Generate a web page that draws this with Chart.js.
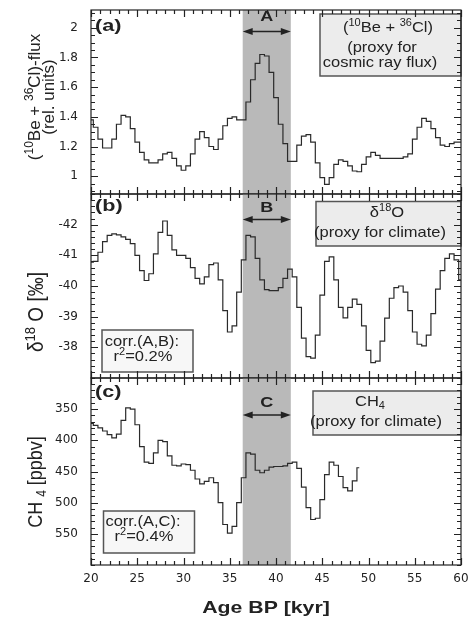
<!DOCTYPE html>
<html>
<head>
<meta charset="utf-8">
<script src="https://cdn.jsdelivr.net/npm/chart.js@4.4.0/dist/chart.umd.min.js"></script>
<style>
  html, body { margin: 0; padding: 0; background: #fff; }
  #wrap { position: relative; width: 472px; height: 624px; }
  #wrap canvas { position: absolute; left: 0; top: 0; }
</style>
</head>
<body>
<div id="wrap">
  <canvas id="chartA" width="472" height="624"></canvas>
  <canvas id="chartB" width="472" height="624"></canvas>
  <canvas id="chartC" width="472" height="624"></canvas>
</div>
<script>
// age grid (kyr BP)
const ages = [20, 20.5, 21, 21.5, 22, 22.5, 23, 23.5, 24, 24.5, 25, 25.5, 26, 26.5, 27, 27.5,
  28, 28.5, 29, 29.5, 30, 30.5, 31, 31.5, 32, 32.5, 33, 33.5, 34, 34.5, 35, 35.5,
  36, 36.5, 37, 37.5, 38, 38.5, 39, 39.5, 40, 40.5, 41, 41.5, 42, 42.5, 43, 43.5,
  44, 44.5, 45, 45.5, 46, 46.5, 47, 47.5, 48, 48.5, 49, 49.5, 50, 50.5, 51, 51.5,
  52, 52.5, 53, 53.5, 54, 54.5, 55, 55.5, 56, 56.5, 57, 57.5, 58, 58.5, 59, 59.5, 60];

// (a) 10Be + 36Cl flux, rel. units
const flux = [1.38, 1.33, 1.25, 1.19, 1.19, 1.25, 1.35, 1.41, 1.40, 1.32, 1.23, 1.16,
  1.11, 1.09, 1.09, 1.11, 1.15, 1.16, 1.12, 1.07, 1.04, 1.07, 1.15, 1.25, 1.30, 1.26,
  1.20, 1.18, 1.25, 1.34, 1.39, 1.40, 1.38, 1.38, 1.50, 1.65, 1.76, 1.82, 1.81, 1.70,
  1.53, 1.35, 1.22, 1.10, 1.10, 1.21, 1.27, 1.28, 1.23, 1.09, 0.99, 0.945, 0.99, 1.08,
  1.11, 1.10, 1.07, 1.035, 1.03, 1.08, 1.13, 1.16, 1.14, 1.12, 1.12, 1.12, 1.12, 1.12,
  1.13, 1.15, 1.25, 1.33, 1.39, 1.37, 1.32, 1.26, 1.21, 1.20, 1.22, 1.23, 1.23];

// (b) delta 18O, per mil
const d18O = [-40.78, -40.80, -41.10, -41.45, -41.65, -41.70, -41.67, -41.60, -41.52, -41.38,
  -41.00, -40.50, -40.18, -40.40, -41.05, -41.75, -42.12, -41.65, -41.18, -41.00, -41.00,
  -40.90, -40.60, -40.25, -40.07, -40.30, -40.70, -40.75, -40.20, -39.20, -38.50, -38.70,
  -39.80, -40.85, -41.65, -41.60, -40.90, -40.20, -39.88, -39.85, -39.85, -39.95, -40.25,
  -40.55, -40.30, -39.30, -38.30, -37.70, -37.65, -38.40, -39.70, -40.80, -40.95, -40.20,
  -39.30, -38.96, -39.30, -39.57, -39.40, -38.70, -37.90, -37.50, -37.55, -38.20, -38.95,
  -39.60, -39.95, -40.00, -39.80, -39.20, -38.50, -38.10, -38.05, -38.40, -39.10, -39.90,
  -40.50, -40.90, -41.05, -40.85, -40.20];

// (c) CH4, ppbv (record ends near 49 kyr)
const ch4 = [373, 376, 380, 385, 391, 396, 390, 368, 348, 350, 375, 410, 435, 437, 420, 400,
  402, 425, 440, 441, 438, 439, 448, 462, 470, 466, 460, 468, 500, 535, 549, 538, 500, 460,
  420, 422, 448, 452, 448, 443, 442, 442, 441, 437, 435, 445, 475, 508, 527, 525, 495, 455,
  435, 440, 458, 476, 481, 465, 444];

const bandKyr = [36.4, 41.6];
const xTicks = [20, 25, 30, 35, 40, 45, 50, 55, 60];
const fluxTicks = [1, 1.2, 1.4, 1.6, 1.8, 2];
const d18OTicks = [-42, -41, -40, -39, -38];
const ch4Ticks = [350, 400, 450, 500, 550];

const INK = '#222';

// text with ^{sup} and _{sub} parts, optionally rotated and stretched
function drawRich(ctx, str, x, y, size, o) {
  o = o || {};
  const fam = 'Liberation Sans, Arial, sans-serif';
  const wt = o.bold ? 'bold ' : '';
  const segs = [];
  str.replace(/\^\{([^}]*)\}|_\{([^}]*)\}|[^^_]+/g, (m, sup, sub) => {
    if (sup !== undefined) segs.push({t: sup, s: 'sup'});
    else if (sub !== undefined) segs.push({t: sub, s: 'sub'});
    else segs.push({t: m});
    return m;
  });
  const fontFor = s => wt + (s.s ? Math.round(size * 0.68) : size) + 'px ' + fam;
  let w = 0;
  segs.forEach(s => { ctx.font = fontFor(s); w += ctx.measureText(s.t).width; });
  const sx = o.sx || 1;
  ctx.save();
  ctx.translate(x, y);
  if (o.rot) { ctx.rotate(-Math.PI / 2); ctx.scale(1, sx); } else { ctx.scale(sx, 1); }
  ctx.fillStyle = INK;
  ctx.textAlign = 'left';
  ctx.textBaseline = 'middle';
  let cx = o.align === 'left' ? 0 : -w / 2;
  segs.forEach(s => {
    ctx.font = fontFor(s);
    const dy = s.s === 'sup' ? -size * 0.3 : s.s === 'sub' ? size * 0.28 : 0;
    ctx.fillText(s.t, cx, dy);
    cx += ctx.measureText(s.t).width;
  });
  ctx.restore();
}

function drawBox(ctx, b) {
  ctx.save();
  ctx.fillStyle = b.fill;
  ctx.fillRect(b.x, b.y, b.w, b.h);
  ctx.strokeStyle = '#555';
  ctx.lineWidth = 1.5;
  ctx.strokeRect(b.x, b.y, b.w, b.h);
  ctx.restore();
  b.lines.forEach(l => drawRich(ctx, l[0], l[1], l[2], 15, {sx: 1.1}));
}

const panelDecor = {
  id: 'panelDecor',
  beforeDatasetsDraw(chart, args, o) {
    const {ctx, chartArea: a, scales: {x}} = chart;
    const x1 = x.getPixelForValue(bandKyr[0]);
    const x2 = x.getPixelForValue(bandKyr[1]);
    ctx.save();
    ctx.fillStyle = '#b9b9b9';
    ctx.fillRect(x1, a.top, x2 - x1, a.bottom - a.top);
    ctx.restore();
  },
  afterDatasetsDraw(chart, args, o) {
    const {ctx, chartArea: a, scales: {x, y}} = chart;

    // double arrow across the band + letter
    const x1 = x.getPixelForValue(bandKyr[0]);
    const x2 = x.getPixelForValue(bandKyr[1]);
    ctx.save();
    ctx.strokeStyle = INK; ctx.fillStyle = INK; ctx.lineWidth = 1.5;
    ctx.beginPath(); ctx.moveTo(x1 + 6, o.arrowY); ctx.lineTo(x2 - 6, o.arrowY); ctx.stroke();
    ctx.beginPath(); ctx.moveTo(x1, o.arrowY); ctx.lineTo(x1 + 10, o.arrowY - 3.5); ctx.lineTo(x1 + 10, o.arrowY + 3.5); ctx.fill();
    ctx.beginPath(); ctx.moveTo(x2, o.arrowY); ctx.lineTo(x2 - 10, o.arrowY - 3.5); ctx.lineTo(x2 - 10, o.arrowY + 3.5); ctx.fill();
    ctx.restore();
    drawRich(ctx, o.bandLetter, (x1 + x2) / 2, o.bandLetterY, 15, {bold: true, sx: 1.2});

    // panel letter
    drawRich(ctx, o.letter, a.left + 4, o.letterY, 16, {bold: true, sx: 1.35, align: 'left'});

    // legend-like boxes
    o.boxes.forEach(b => drawBox(ctx, b));

    // frame with inward ticks on all sides
    ctx.save();
    ctx.strokeStyle = INK;
    ctx.lineWidth = 1.2;
    ctx.strokeRect(a.left, a.top, a.right - a.left, a.bottom - a.top);
    ctx.beginPath();
    for (let v = x.min; v <= x.max; v += 1) {
      const px = Math.round(x.getPixelForValue(v)) + 0.5;
      const len = v % 5 === 0 ? 7 : 4;
      ctx.moveTo(px, a.top); ctx.lineTo(px, a.top + len);
      ctx.moveTo(px, a.bottom); ctx.lineTo(px, a.bottom - len);
    }
    const n0 = Math.ceil(y.min / o.minorStep - 1e-9);
    const n1 = Math.floor(y.max / o.minorStep + 1e-9);
    for (let k = n0; k <= n1; k++) {
      const v = k * o.minorStep;
      const major = o.yTicks.some(t => Math.abs(t - v) < 1e-6);
      const py = Math.round(y.getPixelForValue(v)) + 0.5;
      const len = major ? 7 : 4;
      ctx.moveTo(a.left, py); ctx.lineTo(a.left + len, py);
      ctx.moveTo(a.right, py); ctx.lineTo(a.right - len, py);
    }
    ctx.stroke();
    ctx.restore();

    // axis titles
    o.titles.forEach(t => drawRich(ctx, t[0], t[1], t[2], t[3], {rot: t[4], sx: t[5], bold: t[6]}));
  }
};

function noPad(s) {
  s.paddingTop = 0; s.paddingBottom = 0; s.paddingLeft = 0; s.paddingRight = 0;
}

function makePanel(id, values, yTicks, yMin, yMax, reverse, pad, showX, decor) {
  return new Chart(document.getElementById(id), {
    type: 'line',
    data: {
      datasets: [{
        data: values.map((v, i) => ({x: ages[i], y: v})),
        borderColor: '#2a2a2a',
        borderWidth: 1.2,
        pointRadius: 0,
        stepped: 'middle',
        fill: false
      }]
    },
    options: {
      responsive: false,
      animation: false,
      devicePixelRatio: 1,
      layout: {padding: pad},
      plugins: {legend: {display: false}, tooltip: {enabled: false}, panelDecor: decor},
      scales: {
        x: {
          type: 'linear', min: 20, max: 60, display: showX,
          afterBuildTicks: s => { s.ticks = xTicks.map(v => ({value: v})); },
          afterFit: s => { s.height = showX ? 59 : 0; noPad(s); },
          grid: {display: false, drawTicks: false},
          border: {display: false},
          ticks: {color: INK, padding: 7, maxRotation: 0, font: {family: 'DejaVu Sans', size: 12}}
        },
        y: {
          min: yMin, max: yMax, reverse: reverse,
          afterBuildTicks: s => { s.ticks = yTicks.map(v => ({value: v})); },
          afterFit: s => { s.width = 91; noPad(s); },
          grid: {display: false, drawTicks: false},
          border: {display: false},
          ticks: {
            color: INK, padding: 13, font: {family: 'DejaVu Sans', size: 12},
            callback: v => String(+v.toFixed(2))
          }
        }
      }
    },
    plugins: [panelDecor]
  });
}

makePanel('chartA', flux, fluxTicks, 0.88, 2.12, false,
  {top: 10, bottom: 430, left: 0, right: 11}, false, {
    letter: '(a)', letterY: 27, bandLetter: 'A', bandLetterY: 17, arrowY: 31.5,
    minorStep: 0.05, yTicks: fluxTicks,
    boxes: [{x: 320, y: 14, w: 141, h: 62, fill: '#ececec', lines: [
      ['(^{10}Be + ^{36}Cl)', 388, 28], ['(proxy for', 382, 47.5], ['cosmic ray flux)', 380, 63]]}],
    titles: [['(^{10}Be + ^{36}Cl)-flux', 35, 97, 17, true, 1, false],
             ['(rel. units)', 49, 97, 17, true, 1, false]]
  });

makePanel('chartB', d18O, d18OTicks, -43, -37, true,
  {top: 194, bottom: 246, left: 0, right: 11}, false, {
    letter: '(b)', letterY: 207, bandLetter: 'B', bandLetterY: 208, arrowY: 219.5,
    minorStep: 0.2, yTicks: d18OTicks,
    boxes: [
      {x: 316, y: 201.5, w: 145, h: 44.5, fill: '#ececec', lines: [
        ['δ^{18}O', 387, 213], ['(proxy for climate)', 380, 232.5]]},
      {x: 102, y: 330, w: 91, h: 42, fill: '#f7f7f7', lines: [
        ['corr.(A,B):', 142, 341.5], ['r^{2}=0.2%', 143, 357]]}],
    titles: [['δ^{18} O [‰]', 37, 312, 19, true, 1.15, false]]
  });

makePanel('chartC', ch4, ch4Ticks, 300, 600, true,
  {top: 378, bottom: 0, left: 0, right: 11}, true, {
    letter: '(c)', letterY: 393, bandLetter: 'C', bandLetterY: 403, arrowY: 415,
    minorStep: 10, yTicks: ch4Ticks,
    boxes: [
      {x: 313, y: 391, w: 148, h: 44, fill: '#ececec', lines: [
        ['CH_{4}', 370, 402], ['(proxy for climate)', 376, 422]]},
      {x: 103.5, y: 511, w: 91, h: 42, fill: '#f7f7f7', lines: [
        ['corr.(A,C):', 143, 522], ['r^{2}=0.4%', 144, 537]]}],
    titles: [['CH _{4} [ppbv]', 36, 482, 18, true, 1.15, false],
             ['Age BP [kyr]', 266, 608, 17, false, 1.25, true]]
  });
</script>
</body>
</html>
